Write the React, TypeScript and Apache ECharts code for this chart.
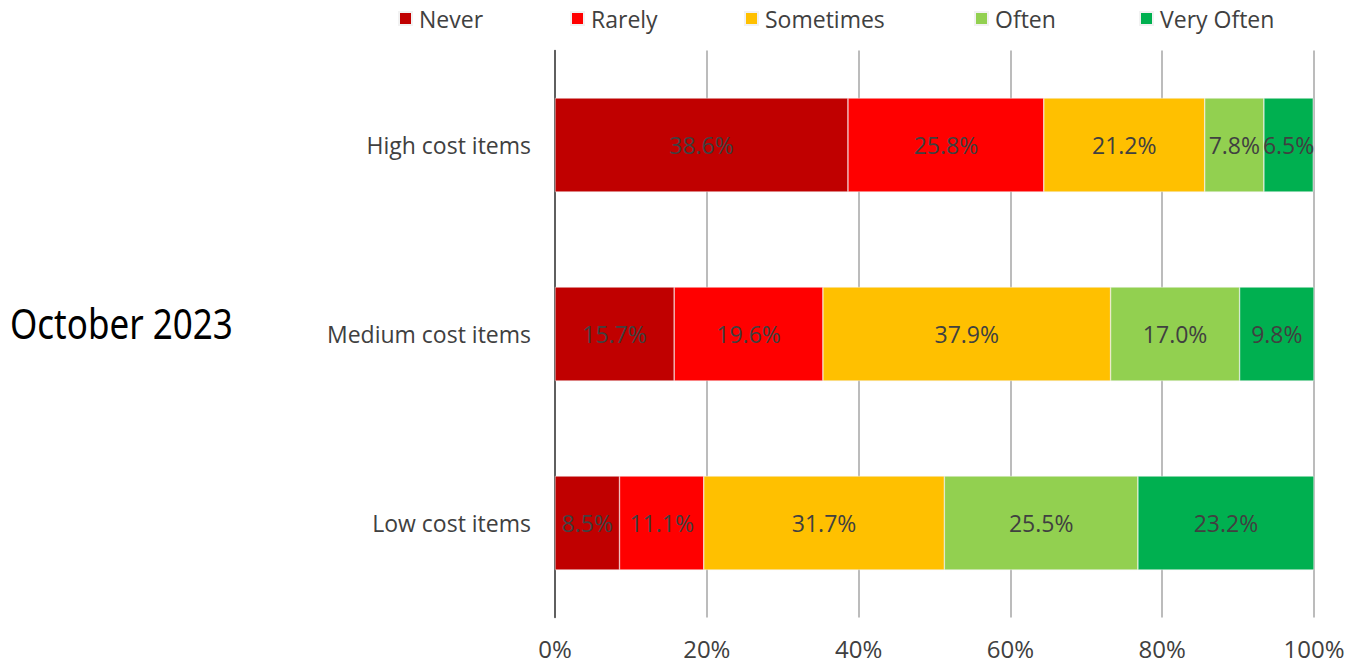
import React, { useEffect, useRef } from "react";
import * as echarts from "echarts";

const categories = ["Low cost items", "Medium cost items", "High cost items"];
const seriesNames = ["Never", "Rarely", "Sometimes", "Often", "Very Often"];
const never = [8.5, 15.7, 38.6];
const rarely = [11.1, 19.6, 25.8];
const sometimes = [31.7, 37.9, 21.2];
const often = [25.5, 17.0, 7.8];
const veryOften = [23.2, 9.8, 6.5];
const colors = ["#C00000", "#FF0000", "#FFC000", "#92D050", "#00B050"];
const xTicks = [0, 20, 40, 60, 80, 100];
const sideTitle = "October 2023";

const FONT = "'Open Sans', Lato, sans-serif";
const TXT = "#404040";

export default function App() {
  const ref = useRef<HTMLDivElement>(null);
  useEffect(() => {
    const chart = echarts.init(ref.current!, null, { renderer: "svg" });
    const values = [never, rarely, sometimes, often, veryOften];
    const legendLefts = [393, 565, 739, 969, 1134];
    chart.setOption({
      animation: false,
      textStyle: { fontFamily: FONT },
      legend: seriesNames.map((n, i) => ({
        data: [n],
        left: legendLefts[i],
        top: 2,
        itemWidth: 13,
        itemHeight: 13,
        itemGap: 0,
        icon: "rect",
        textStyle: { fontSize: 23, color: TXT, fontFamily: FONT, padding: [0, 0, 0, 2] },
      })),
      grid: { left: 555, right: 38, top: 50.5, bottom: 47.5, containLabel: false },
      xAxis: {
        type: "value",
        min: xTicks[0],
        max: xTicks[xTicks.length - 1],
        interval: 20,
        axisLabel: { formatter: "{value}%", fontSize: 24, color: TXT, margin: 19, fontFamily: FONT },
        splitLine: { show: true, lineStyle: { color: "#A6A6A6", width: 1.5 } },
        axisLine: { show: false },
        axisTick: { show: false },
      },
      yAxis: {
        type: "category",
        data: categories,
        axisLabel: { fontSize: 23, color: TXT, margin: 24, fontFamily: FONT },
        axisLine: { show: true, lineStyle: { color: "#404040", width: 1.5 } },
        axisTick: { show: false },
      },
      graphic: [
        {
          type: "text",
          x: 10,
          y: 302,
          scaleX: 1,
          scaleY: 1.2,
          style: { text: sideTitle, fontSize: 35, fill: "#000", fontFamily: "'Noto Sans', sans-serif" },
        },
      ],
      series: seriesNames.map((n, i) => ({
        name: n,
        type: "bar",
        stack: "total",
        barWidth: 94,
        data: values[i],
        itemStyle: { color: colors[i], borderColor: "#F2F2F2", borderWidth: 0.5 },
        label: {
          show: true,
          position: "inside",
          formatter: (p: any) => p.value.toFixed(1) + "%",
          fontSize: 23,
          color: TXT,
          fontFamily: FONT,
        },
      })),
    });
    return () => chart.dispose();
  }, []);
  return <div ref={ref} style={{ width: 1352, height: 665, position: "absolute", left: 0, top: 0 }} />;
}
